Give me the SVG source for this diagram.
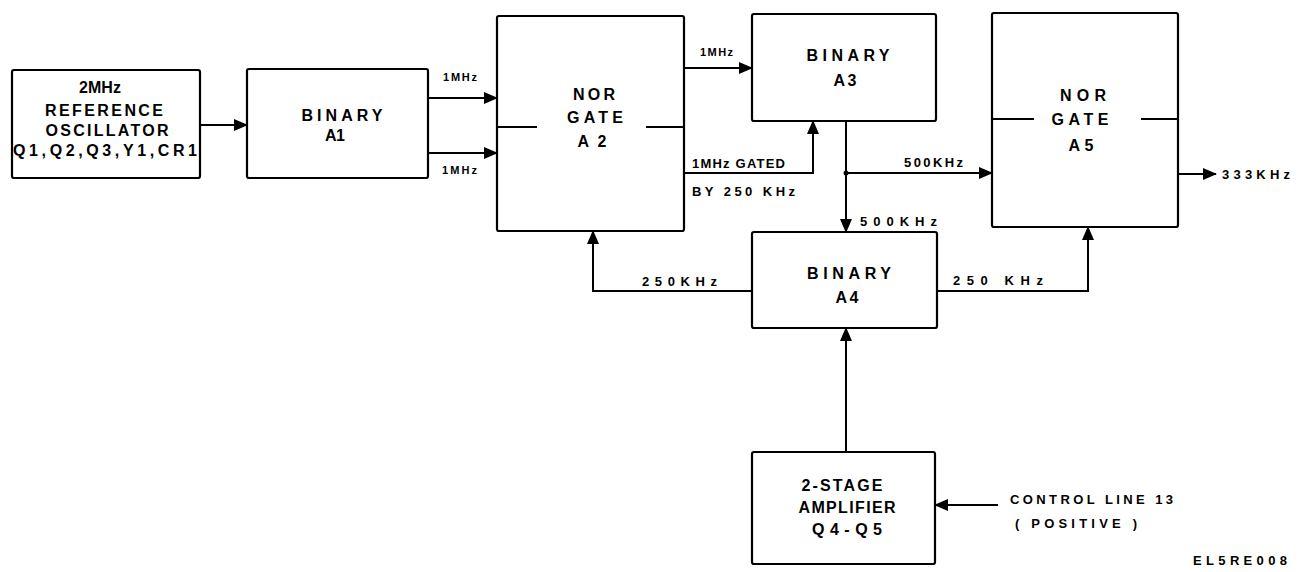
<svg xmlns="http://www.w3.org/2000/svg" width="1305" height="572" viewBox="0 0 1305 572">
<style>
.box{fill:#fff;stroke:#000;stroke-width:2.2}
.ln{fill:none;stroke:#000;stroke-width:2}
.t{font-family:"Liberation Sans",Arial,sans-serif;font-weight:bold;font-size:16px;fill:#000;text-anchor:middle}
.s{font-family:"Liberation Sans",Arial,sans-serif;font-weight:bold;font-size:13px;fill:#000}
.xs{font-family:"Liberation Sans",Arial,sans-serif;font-weight:bold;font-size:11px;fill:#000}
</style>
<defs>
<marker id="ah" markerUnits="userSpaceOnUse" markerWidth="14" markerHeight="12" refX="13" refY="6" orient="auto">
<path d="M0,0 L14,6 L0,12 z" fill="#000"/>
</marker>
</defs>
<rect width="1305" height="572" fill="#fff"/>

<g id="osc">
<rect class="box" x="12" y="70" width="188" height="108" rx="2"/>
<text class="t" x="100" y="93" font-size="12">2MHz</text>
<text class="t" x="104" y="116" textLength="118" lengthAdjust="spacing">REFERENCE</text>
<text class="t" x="107" y="136" textLength="123" lengthAdjust="spacing">OSCILLATOR</text>
<text class="t" x="105" y="156" textLength="184" lengthAdjust="spacing">Q1,Q2,Q3,Y1,CR1</text>
</g>

<g id="a1">
<rect class="box" x="247" y="69" width="181" height="109" rx="2"/>
<text class="t" x="342" y="121" textLength="81" lengthAdjust="spacing">BINARY</text>
<text class="t" x="335" y="141" textLength="20" lengthAdjust="spacing">A1</text>
</g>

<g id="a2">
<rect class="box" x="497" y="16" width="187" height="215" rx="2"/>
<path class="ln" d="M497,127 H537 M646,127 H684"/>
<text class="t" x="594" y="100" font-size="15" textLength="42" lengthAdjust="spacing">NOR</text>
<text class="t" x="595" y="123" font-size="15" textLength="56" lengthAdjust="spacing">GATE</text>
<text class="t" x="592" y="147" font-size="15" textLength="29" lengthAdjust="spacing">A2</text>
</g>

<g id="a3">
<rect class="box" x="752" y="14" width="184" height="107" rx="2"/>
<text class="t" x="848" y="61" textLength="83" lengthAdjust="spacing">BINARY</text>
<text class="t" x="845" y="86" textLength="23" lengthAdjust="spacing">A3</text>
</g>

<g id="a5">
<rect class="box" x="992" y="13" width="186" height="214" rx="2"/>
<path class="ln" d="M992,119 H1034 M1141,119 H1178"/>
<text class="t" x="1083" y="101" textLength="46" lengthAdjust="spacing">NOR</text>
<text class="t" x="1080" y="125" textLength="57" lengthAdjust="spacing">GATE</text>
<text class="t" x="1081" y="151" textLength="25" lengthAdjust="spacing">A5</text>
</g>

<g id="a4">
<rect class="box" x="752" y="232" width="185" height="96" rx="2"/>
<text class="t" x="849" y="279" textLength="84" lengthAdjust="spacing">BINARY</text>
<text class="t" x="847" y="303" textLength="23" lengthAdjust="spacing">A4</text>
</g>

<g id="amp">
<rect class="box" x="752" y="452" width="183" height="112" rx="2"/>
<text class="t" x="842" y="491" textLength="81" lengthAdjust="spacing">2-STAGE</text>
<text class="t" x="847" y="513" textLength="97" lengthAdjust="spacing">AMPLIFIER</text>
<text class="t" x="847" y="535" textLength="70" lengthAdjust="spacing">Q4-Q5</text>
</g>

<g id="connectors">
<path class="ln" d="M200,125 H247" marker-end="url(#ah)"/>
<path class="ln" d="M428,98 H497" marker-end="url(#ah)"/>
<path class="ln" d="M428,153 H497" marker-end="url(#ah)"/>
<path class="ln" d="M684,68 H752" marker-end="url(#ah)"/>
<path class="ln" d="M684,173 H813 V121" marker-end="url(#ah)"/>
<path class="ln" d="M846,121 V232" marker-end="url(#ah)"/>
<path class="ln" d="M846,173 H992" marker-end="url(#ah)"/>
<circle cx="846" cy="173" r="2.5" fill="#000"/>
<path class="ln" d="M752,291 H593 V231" marker-end="url(#ah)"/>
<path class="ln" d="M937,291 H1088 V227" marker-end="url(#ah)"/>
<path class="ln" d="M846,452 V328" marker-end="url(#ah)"/>
<path class="ln" d="M998,505 H935" marker-end="url(#ah)"/>
<path class="ln" d="M1178,174 H1216" marker-end="url(#ah)"/>
</g>

<g id="labels">
<text class="xs" x="443" y="81" textLength="34" lengthAdjust="spacing">1MHz</text>
<text class="xs" x="442" y="174" textLength="35" lengthAdjust="spacing">1MHz</text>
<text class="xs" x="700" y="56" textLength="33" lengthAdjust="spacing">1MHz</text>
<text class="s" x="692" y="168" font-size="14" textLength="93" lengthAdjust="spacing">1MHz GATED</text>
<text class="s" x="692" y="196" font-size="14" textLength="103" lengthAdjust="spacing">BY 250 KHz</text>
<text class="s" x="904" y="167" font-size="12" textLength="59" lengthAdjust="spacing">500KHz</text>
<text class="s" x="860" y="226" textLength="77" lengthAdjust="spacing">500KHz</text>
<text class="s" x="642" y="286" textLength="75" lengthAdjust="spacing">250KHz</text>
<text class="s" x="953" y="285" textLength="90" lengthAdjust="spacing">250 KHz</text>
<text class="s" x="1222" y="179" font-size="14" textLength="68" lengthAdjust="spacing">333KHz</text>
<text class="s" x="1010" y="504" font-size="12" textLength="163" lengthAdjust="spacing">CONTROL LINE 13</text>
<text class="s" x="1015" y="528" font-size="12" textLength="122" lengthAdjust="spacing">( POSITIVE )</text>
<text class="s" x="1193" y="565" font-size="14" textLength="94" lengthAdjust="spacing">EL5RE008</text>
</g>
</svg>
